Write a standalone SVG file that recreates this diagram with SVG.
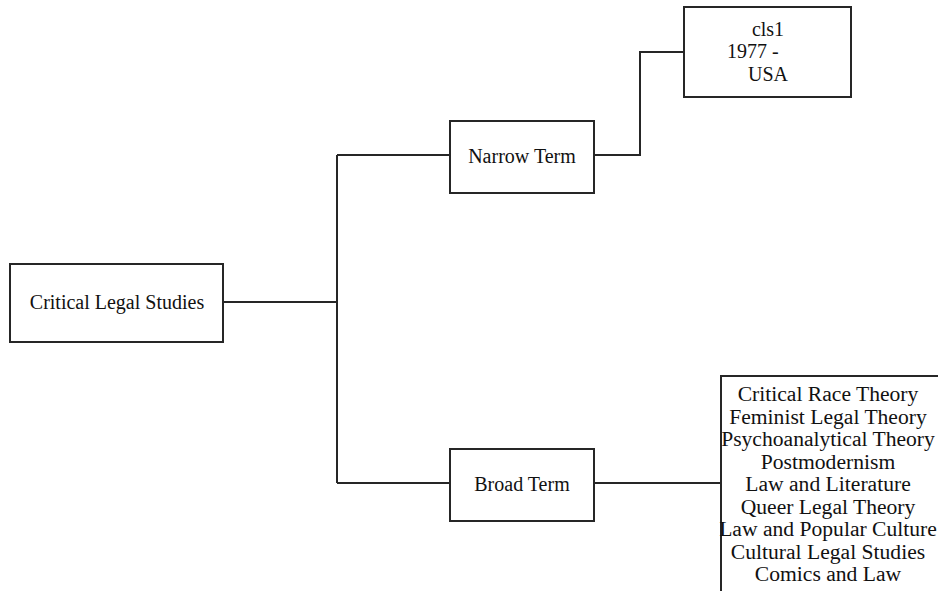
<svg xmlns="http://www.w3.org/2000/svg" width="938" height="591" viewBox="0 0 938 591">
  <style>
    .box { fill: #ffffff; stroke: #262626; stroke-width: 2; }
    .wire { fill: none; stroke: #262626; stroke-width: 2; }
    text { font-family: "Liberation Serif", "Times New Roman", serif; font-size: 20px; fill: #111111; }
    .c { text-anchor: middle; }
    .list text { font-size: 21.6px; }
  </style>
  <rect width="938" height="591" fill="#ffffff"/>

  <g id="connectors">
    <path class="wire" d="M223 302 H337"/>
    <path class="wire" d="M337 155 V483"/>
    <path class="wire" d="M337 155 H450"/>
    <path class="wire" d="M337 483 H450"/>
    <path class="wire" d="M594 155 H640 V52 H684"/>
    <path class="wire" d="M594 483 H721"/>
  </g>

  <g id="critical-legal-studies">
    <rect class="box" x="10" y="264" width="213" height="78"/>
    <text class="c" x="117" y="309">Critical Legal Studies</text>
  </g>

  <g id="narrow-term">
    <rect class="box" x="450" y="121" width="144" height="72"/>
    <text class="c" x="522" y="163">Narrow Term</text>
  </g>

  <g id="cls1">
    <rect class="box" x="684" y="7" width="167" height="90"/>
    <text class="c" x="768" y="36">cls1</text>
    <text x="727" y="58">1977 -</text>
    <text x="748" y="81">USA</text>
  </g>

  <g id="broad-term">
    <rect class="box" x="450" y="449" width="144" height="72"/>
    <text class="c" x="522" y="491">Broad Term</text>
  </g>

  <g id="movements">
    <rect class="box" x="721" y="376" width="240" height="240"/>
    <g class="list">
      <text class="c" x="828" y="401">Critical Race Theory</text>
      <text class="c" x="828" y="423.5">Feminist Legal Theory</text>
      <text class="c" x="828" y="446">Psychoanalytical Theory</text>
      <text class="c" x="828" y="468.5">Postmodernism</text>
      <text class="c" x="828" y="491">Law and Literature</text>
      <text class="c" x="828" y="513.5">Queer Legal Theory</text>
      <text class="c" x="828" y="536">Law and Popular Culture</text>
      <text class="c" x="828" y="558.5">Cultural Legal Studies</text>
      <text class="c" x="828" y="581">Comics and Law</text>
    </g>
  </g>
</svg>
